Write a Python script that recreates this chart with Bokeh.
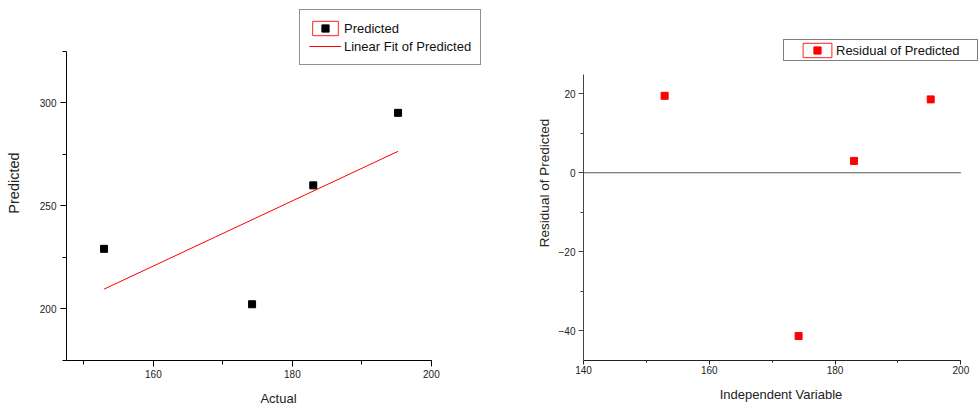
import numpy as np
from bokeh.plotting import figure
from bokeh.layouts import row
from bokeh.models import Range1d, SingleIntervalTicker, Legend, LegendItem
from bokeh.embed import file_html
from bokeh.resources import INLINE

# ---- data ----
actual = [152.9, 174.2, 183.0, 195.2]
predicted = [229.2, 202.3, 260.0, 295.2]
residual = [19.5, -41.4, 3.0, 18.6]

# axis extents (drawn axis lines) of both panels
left_x_lim = [147.5, 200]
left_y_lim = [175, 325]
right_x_lim = [140, 200]
right_y_lim = [-47.6, 25]
zero_level = [0, 0]

FONT = "Liberation Sans"

# linear fit of predicted vs actual
slope, intercept = np.polyfit(actual, predicted, 1)
fit_x = [min(actual), max(actual)]
fit_y = [slope * v + intercept for v in fit_x]


def style_axis(ax, color, tick_out, minor_out, lab_standoff, axlab_standoff, axlab_size):
    ax.axis_line_color = color
    ax.axis_line_width = 1
    ax.major_tick_line_color = color
    ax.minor_tick_line_color = color
    ax.major_tick_in = 0
    ax.major_tick_out = tick_out
    ax.minor_tick_in = 0
    ax.minor_tick_out = minor_out
    ax.major_label_text_font = FONT
    ax.major_label_text_font_size = "10px"
    ax.major_label_text_color = "#222222"
    ax.major_label_standoff = lab_standoff
    ax.axis_label_text_font = FONT
    ax.axis_label_text_font_size = axlab_size
    ax.axis_label_text_font_style = "normal"
    ax.axis_label_text_color = "#222222"
    ax.axis_label_standoff = axlab_standoff


# ---------------- left panel ----------------
# frame is larger than the drawn axes so the legend fits inside it
p1 = figure(width=505, height=408,
            x_range=Range1d(147.5, 208.5), y_range=Range1d(175, 347.3),
            output_backend="svg", toolbar_location=None,
            min_border_left=66, min_border_right=15,
            min_border_top=5, min_border_bottom=47)
p1.outline_line_color = None
p1.xgrid.visible = False
p1.ygrid.visible = False
p1.xaxis.ticker = SingleIntervalTicker(interval=20, num_minor_ticks=2)
p1.yaxis.ticker = SingleIntervalTicker(interval=50, num_minor_ticks=2)
p1.xaxis.bounds = tuple(left_x_lim)
p1.yaxis.bounds = tuple(left_y_lim)
p1.xaxis.axis_label = "Actual"
p1.yaxis.axis_label = "Predicted"
style_axis(p1.xaxis[0], "black", 6, 4, 3, 10, "13px")
style_axis(p1.yaxis[0], "black", 6, 4, 4, 15, "14.5px")

box1 = p1.rect(x=[0], y=[0], width=1, height=1, fill_color=None,
               line_color="#ff2020", line_width=1)
pts1 = p1.scatter(actual, predicted, marker="square", size=7,
                  fill_color="black", line_color="black")
fit1 = p1.line(fit_x, fit_y, line_color="#ff0000", line_width=1)

leg1 = Legend(items=[LegendItem(label="Predicted", renderers=[box1, pts1]),
                     LegendItem(label="Linear Fit of Predicted", renderers=[fit1])],
              location=(233, 295))
leg1.glyph_width = 32
leg1.glyph_height = 18
leg1.label_height = 18
leg1.label_standoff = 3
leg1.padding = 9
leg1.spacing = 0
leg1.margin = 0
leg1.border_line_color = "#222222"
leg1.border_line_width = 1.5
leg1.label_text_font = FONT
leg1.label_text_font_size = "13px"
leg1.label_text_color = "#111111"
p1.add_layout(leg1)

# ---------------- right panel ----------------
p2 = figure(width=473, height=408,
            x_range=Range1d(140, 202.8), y_range=Range1d(-47.6, 42.4),
            output_backend="svg", toolbar_location=None,
            min_border_left=78, min_border_right=0,
            min_border_top=5, min_border_bottom=47)
p2.outline_line_color = None
p2.xgrid.visible = False
p2.ygrid.visible = False
p2.xaxis.ticker = SingleIntervalTicker(interval=20, num_minor_ticks=2)
p2.yaxis.ticker = SingleIntervalTicker(interval=20, num_minor_ticks=2)
p2.xaxis.bounds = tuple(right_x_lim)
p2.yaxis.bounds = tuple(right_y_lim)
p2.xaxis.axis_label = "Independent Variable"
p2.yaxis.axis_label = "Residual of Predicted"
style_axis(p2.xaxis[0], "#222222", 4, 2, 1, 10, "13px")
style_axis(p2.yaxis[0], "#444444", 5, 3, 3, 4, "13.5px")

p2.line(right_x_lim, zero_level, line_color="#555555", line_width=1)

box2 = p2.rect(x=[0], y=[0], width=1, height=1, fill_color=None,
               line_color="#ff2020", line_width=1)
pts2 = p2.scatter(actual, residual, marker="square", size=7,
                  fill_color="#ff0000", line_color="#ff0000")

leg2 = Legend(items=[LegendItem(label="Residual of Predicted", renderers=[box2, pts2])],
              location=(200, 299))
leg2.glyph_width = 36
leg2.glyph_height = 18
leg2.label_height = 18
leg2.label_width = 140
leg2.label_standoff = 1
leg2.padding = 1
leg2.margin = 0
leg2.border_line_color = "black"
leg2.border_line_width = 1.2
leg2.label_text_font = FONT
leg2.label_text_font_size = "13px"
leg2.label_text_color = "#111111"
try:
    leg2.title = " "
    leg2.title_location = "left"
    leg2.title_standoff = 3
    leg2.title_text_font_size = "10px"
except AttributeError:
    pass
p2.add_layout(leg2)

layout = row(p1, p2)
open("out.html", "w").write(file_html(layout, INLINE))
